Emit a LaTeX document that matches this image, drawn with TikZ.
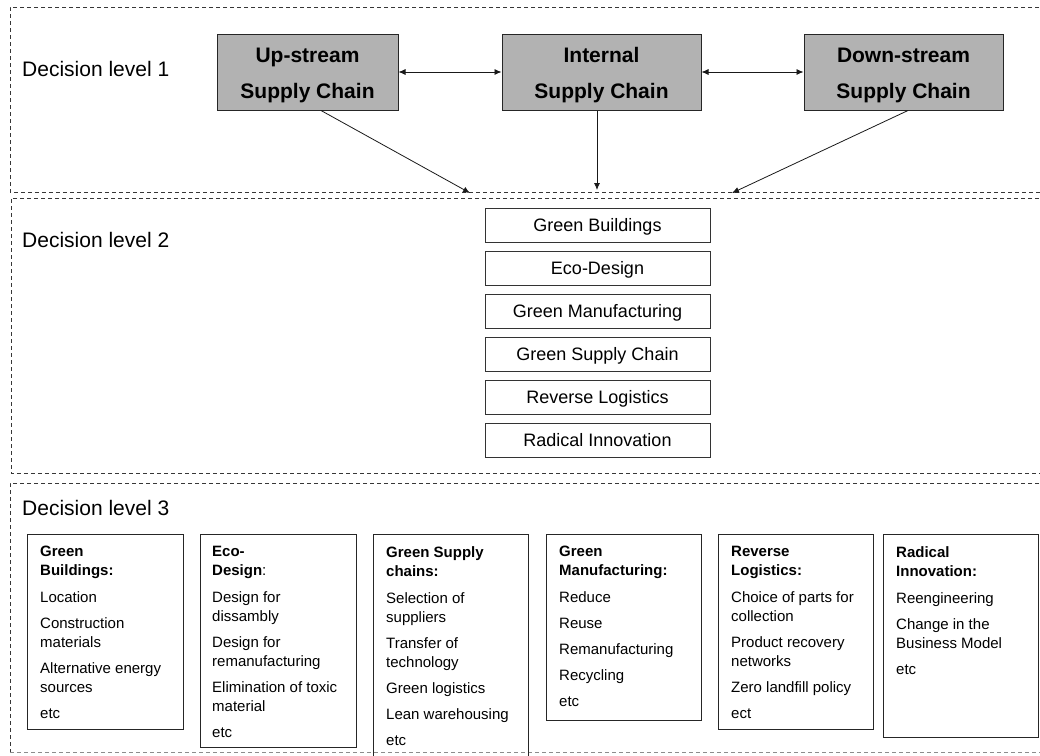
\documentclass[tikz,border=0pt]{standalone}
\usepackage{fontspec}
\setmainfont{Liberation Sans}
\usetikzlibrary{arrows.meta,calc}
\definecolor{chaingray}{RGB}{178,178,178}
\definecolor{framegray}{RGB}{55,55,55}

\begin{document}
\begin{tikzpicture}[x=1pt,y=-1pt,
  frameline/.style={draw=framegray,line width=0.9pt,dash pattern=on 4pt off 3pt},
  levellabel/.style={anchor=base west,inner sep=0pt,font=\fontsize{21}{25}\selectfont},
  chainbox/.style={draw=black!85,line width=1pt,fill=chaingray,minimum width=#1,
    minimum height=76pt,inner sep=0pt},
  chainbox/.default=199pt,
  chaintext/.style={anchor=base,inner sep=0pt,align=center,font=\fontsize{21}{36}\selectfont\bfseries},
  practicebox/.style={draw=black!80,line width=0.9pt,minimum width=225pt,minimum height=34pt,
    inner sep=0pt,text height=13pt,text depth=0pt,font=\fontsize{18}{22}\selectfont},
  detailbox/.style={draw=black!85,line width=0.9pt,anchor=north west,inner sep=0pt},
  detailtext/.style={anchor=north west,inner sep=0pt,align=left,font=\fontsize{15}{19}\selectfont},
  arr/.style={draw=black!90,line width=0.8pt,-{Latex[length=7pt,width=6pt]}},
  darr/.style={draw=black!90,line width=0.8pt,{Latex[length=7pt,width=6pt]}-{Latex[length=7pt,width=6pt]}}
]
\useasboundingbox (0,0) rectangle (1040,755);

% dashed frames of the three decision levels
\draw[frameline] (1060,7) -- (10,7) -- (10,192) -- (1060,192);
\draw[frameline] (1060,198) -- (11,198) -- (11,473) -- (1060,473);
\draw[frameline] (1060,483) -- (10,483) -- (10,752);
\draw[frameline,draw=black!45] (10,752) -- (1060,752);

% level labels
\node[levellabel] (lab1) at (22,76) {Decision level 1};
\node[levellabel] (lab2) at (22,247) {Decision level 2};
\node[levellabel] (lab3) at (22,515) {Decision level 3};

% decision level 1: supply chain segments (the base anchor sits on the second line)
\node[chainbox=181pt] (up) at (307.5,72) {};
\node[chainbox] (int) at (601.5,72) {};
\node[chainbox] (down) at (903.5,72) {};
\node[chaintext] (upt) at (307.5,98) {Up-stream\\Supply Chain};
\node[chaintext] (intt) at (601.5,98) {Internal\\Supply Chain};
\node[chaintext] (downt) at (903.5,98) {Down-stream\\Supply Chain};

\draw[darr] (up.east) -- (int.west);
\draw[darr] (int.east) -- (down.west);

% arrow ends on the level 2 frame
\coordinate (inUp) at (470,193);
\coordinate (inInt) at (597,190);
\coordinate (inDown) at (732,193);
\draw[arr] ([xshift=13.5pt]up.south) -- (inUp);
\draw[arr] ([xshift=-4.5pt]int.south) -- (inInt);
\draw[arr] ([xshift=4.5pt]down.south) -- (inDown);

% decision level 2: green practices
\node[practicebox] (p1) at (597.5,225) {Green Buildings};
\node[practicebox] (p2) at (597.5,268) {Eco-Design};
\node[practicebox] (p3) at (597.5,311) {Green Manufacturing};
\node[practicebox] (p4) at (597.5,354) {Green Supply Chain};
\node[practicebox] (p5) at (597.5,397) {Reverse Logistics};
\node[practicebox] (p6) at (597.5,440) {Radical Innovation};

% decision level 3: detailed measures
\node[detailbox,minimum width=156pt,minimum height=195pt] (d1) at (27,534) {};
\node[detailbox,minimum width=156pt,minimum height=213pt] (d2) at (200,534) {};
\node[detailbox,minimum width=155pt,minimum height=240pt] (d3) at (373,534) {};
\node[detailbox,minimum width=155pt,minimum height=186pt] (d4) at (546,534) {};
\node[detailbox,minimum width=155pt,minimum height=195pt] (d5) at (718,534) {};
\node[detailbox,minimum width=155pt,minimum height=203pt] (d6) at (883,534) {};

\node[detailtext] (t1) at ([xshift=13pt,yshift=-12pt]d1.north west)
  {\textbf{Green}\\\textbf{Buildings:}\\[8pt]Location\\[7pt]Construction\\materials\\[7pt]Alternative energy\\sources\\[7pt]etc};
\node[detailtext] (t2) at ([xshift=12pt,yshift=-12pt]d2.north west)
  {\textbf{Eco-}\\\textbf{Design}:\\[8pt]Design for\\dissambly\\[7pt]Design for\\remanufacturing\\[7pt]Elimination of toxic\\material\\[7pt]etc};
\node[detailtext] (t3) at ([xshift=13pt,yshift=-12pt]d3.north west)
  {\textbf{Green Supply}\\\textbf{chains:}\\[8pt]Selection of\\suppliers\\[7pt]Transfer of\\technology\\[7pt]Green logistics\\[7pt]Lean warehousing\\[7pt]etc};
\node[detailtext] (t4) at ([xshift=13pt,yshift=-12pt]d4.north west)
  {\textbf{Green}\\\textbf{Manufacturing:}\\[8pt]Reduce\\[7pt]Reuse\\[7pt]Remanufacturing\\[7pt]Recycling\\[7pt]etc};
\node[detailtext] (t5) at ([xshift=13pt,yshift=-12pt]d5.north west)
  {\textbf{Reverse}\\\textbf{Logistics:}\\[8pt]Choice of parts for\\collection\\[7pt]Product recovery\\networks\\[7pt]Zero landfill policy\\[7pt]ect};
\node[detailtext] (t6) at ([xshift=13pt,yshift=-12pt]d6.north west)
  {\textbf{Radical}\\\textbf{Innovation:}\\[8pt]Reengineering\\[7pt]Change in the\\Business Model\\[7pt]etc};
\end{tikzpicture}
\end{document}
